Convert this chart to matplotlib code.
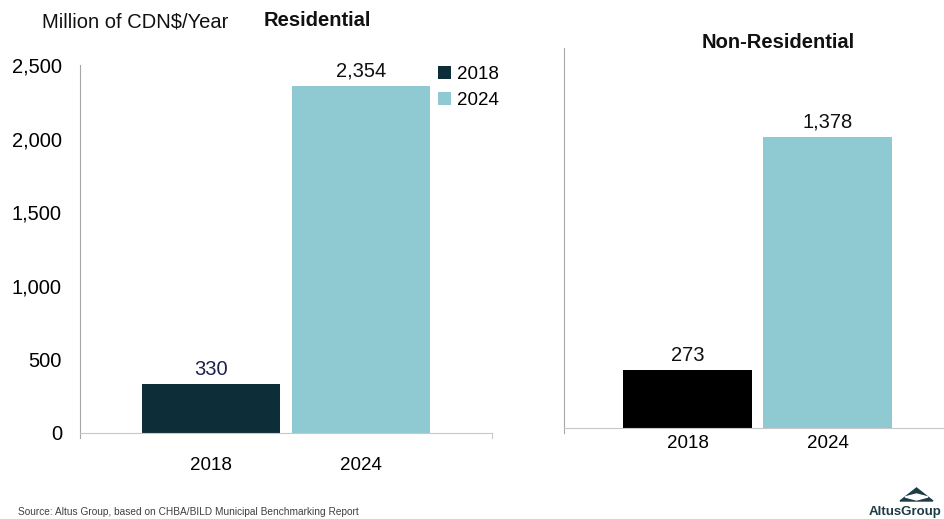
import matplotlib
matplotlib.use("Agg")
import matplotlib.pyplot as plt
from matplotlib.patches import Polygon

plt.rcParams['font.family'] = ['Liberation Sans', 'DejaVu Sans']

years = ["2018", "2024"]
residential = [330, 2354]
non_residential = [273, 1378]

dark_teal = "#0d2d38"
light_teal = "#8fcad2"
res_colors = [dark_teal, light_teal]
nonres_colors = ["#000000", light_teal]
label_colors_res = ["#1f1f4f", "#111111"]


def style_axis(ax, lo, hi, xlo, xhi):
    ax.spines["top"].set_visible(False)
    ax.spines["left"].set_color("#a6a6a6")
    ax.spines["left"].set_bounds(lo, hi)
    ax.spines["bottom"].set_color("#c8c8c8")
    ax.spines["bottom"].set_position(("data", 0))
    ax.spines["right"].set_color("#c8c8c8")
    ax.spines["right"].set_bounds(lo, 0)
    ax.set_ylim(lo, hi)
    ax.set_xlim(xlo, xhi)


def main():
    fig = plt.figure(figsize=(9.45, 5.19), dpi=100)

    # left panel: residential
    ax1 = fig.add_axes([0.0847, 0.1561, 0.4360, 0.7187])
    xs = list(range(len(years)))
    for i, (yr, val) in enumerate(zip(years, residential)):
        bars = ax1.bar(xs[i], val, width=0.92, color=res_colors[i], label=yr)
        ax1.bar_label(bars, labels=["{:,.0f}".format(val)], padding=4,
                      fontsize=14.5, color=label_colors_res[i])
    style_axis(ax1, -34, 2500, -0.873, 1.873)
    ax1.set_yticks([0, 500, 1000, 1500, 2000, 2500])
    ax1.set_yticklabels(["{:,.0f}".format(v) for v in ax1.get_yticks()])
    ax1.tick_params(axis="y", length=0, pad=13, labelsize=14.5)
    ax1.set_xticks(xs)
    ax1.set_xticklabels(years)
    ax1.tick_params(axis="x", length=0, pad=17, labelsize=13.5)

    ax1.legend(loc="upper left", bbox_to_anchor=(438 / 945, 1 - 66 / 519),
               bbox_transform=fig.transFigure, frameon=False,
               handlelength=0.7, handleheight=0.7, handletextpad=0.3,
               borderpad=0, borderaxespad=0, labelspacing=0.45, fontsize=13.5)

    # right panel: non-residential
    ax2 = fig.add_axes([0.5968, 0.1657, 0.4032, 0.7418])
    bars = ax2.bar(xs, non_residential, width=0.92, color=nonres_colors)
    ax2.bar_label(bars, labels=["{:,.0f}".format(v) for v in non_residential],
                  padding=4, fontsize=14.5, color="#111111")
    style_axis(ax2, -24, 1800, -0.882, 1.839)
    ax2.spines["right"].set_visible(False)
    ax2.set_yticks([])
    ax2.set_xticks(xs)
    ax2.set_xticklabels(years)
    ax2.tick_params(axis="x", length=0, pad=5, labelsize=13.5)

    # titles
    fig.text(42 / 945, 1 - 22 / 519, "Million of CDN$/Year", fontsize=14.5,
             va="center", ha="left", color="#111111")
    fig.text(264 / 945, 1 - 20 / 519, "Residential", fontsize=14.5,
             weight="bold", va="center", ha="left", color="#111111")
    fig.text(778 / 945, 1 - 42 / 519, "Non-Residential", fontsize=14.5,
             weight="bold", va="center", ha="center", color="#111111")

    fig.text(18 / 945, 1 - 512 / 519,
             "Source: Altus Group, based on CHBA/BILD Municipal Benchmarking Report",
             fontsize=7.3, color="#404040", va="center", ha="left")

    # logo
    fig.patches.append(Polygon(
        [(900 / 945, 1 - 501 / 519), (916.5 / 945, 1 - 488 / 519),
         (933 / 945, 1 - 501 / 519)],
        closed=True, transform=fig.transFigure, color="#1d3c45"))
    fig.patches.append(Polygon(
        [(905 / 945, 1 - 497 / 519), (916.5 / 945, 1 - 494 / 519),
         (928 / 945, 1 - 497 / 519), (916.5 / 945, 1 - 500 / 519)],
        closed=True, transform=fig.transFigure, color="white"))
    fig.text(941 / 945, 1 - 512 / 519, "AltusGroup", fontsize=9.5,
             weight="bold", color="#1d3c45", va="center", ha="right")

    fig.savefig("out.png", dpi=100)


if __name__ == "__main__":
    main()
